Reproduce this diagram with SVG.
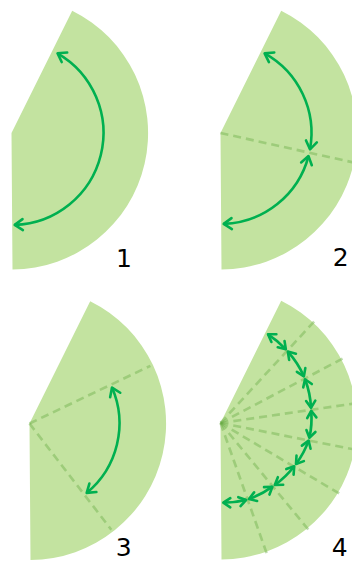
<svg xmlns="http://www.w3.org/2000/svg" width="352" height="562" viewBox="0 0 352 562">
  <style>
    .sector { fill: #C3E3A0; }
    .ray { fill: none; stroke: #6AAB45; stroke-opacity: 0.42; stroke-width: 2.6; stroke-dasharray: 8 5; }
    .arrow { fill: none; stroke: #00B050; stroke-width: 2.6; marker-start: url(#chev); marker-end: url(#chev); }
    .arrow-s { fill: none; stroke: #00B050; stroke-width: 2.7; marker-start: url(#chevs); marker-end: url(#chevs); }
    .num { font-family: "DejaVu Sans", "Liberation Sans", sans-serif; font-size: 25px; fill: #000; text-anchor: middle; }
  </style>
  <defs>
    <path id="sector" d="M0,0 L60.7,-122.3 A136.5,136.5 0 0 1 1,136.5 Z"/>
    <marker id="chev" markerUnits="userSpaceOnUse" viewBox="-10 -7 12 14" markerWidth="12" markerHeight="14" refX="0" refY="0" orient="auto-start-reverse" overflow="visible">
      <path d="M-8,-5.5 L0,0 L-8,5.5" fill="none" stroke="#00B050" stroke-width="2.6" stroke-linecap="round" stroke-linejoin="round"/>
    </marker>
    <marker id="chevs" markerUnits="userSpaceOnUse" viewBox="-10 -7 12 14" markerWidth="12" markerHeight="14" refX="0" refY="0" orient="auto-start-reverse" overflow="visible">
      <path d="M-7,-4.6 L0,0 L-7,4.6" fill="none" stroke="#00B050" stroke-width="2.6" stroke-linecap="round" stroke-linejoin="round"/>
    </marker>
  </defs>

  <!-- Panel 1 -->
  <g id="panel1" transform="translate(11.5,133)">
    <use href="#sector" class="sector"/>
    <g id="panel1-connectors">
      <path class="arrow" d="M46,-79.7 A92,92 0 0 1 3.2,91.9"/>
    </g>
  </g>
  <text id="label1" class="num" x="124" y="267">1</text>

  <!-- Panel 2 -->
  <g id="panel2" transform="translate(220.5,133)">
    <use href="#sector" class="sector"/>
    <path class="ray" d="M0,0 L136.7,30.3"/>
    <g id="panel2-connectors">
      <path class="arrow" d="M44.1,-79.6 A91,91 0 0 1 89.5,16.3"/>
      <path class="arrow" d="M88,23.1 A91,91 0 0 1 3.2,90.9"/>
    </g>
  </g>
  <text id="label2" class="num" x="340.7" y="266">2</text>

  <!-- Panel 3 -->
  <g id="panel3" transform="translate(29.5,423.5)">
    <use href="#sector" class="sector"/>
    <path class="ray" d="M0,0 L120.9,-57.7"/>
    <path class="ray" d="M0,0 L81.8,106.2"/>
    <g id="panel3-connectors">
      <path class="arrow" d="M82.5,-35.9 A90,90 0 0 1 57.2,69.4"/>
    </g>
  </g>
  <text id="label3" class="num" x="123.7" y="556">3</text>

  <!-- Panel 4 -->
  <g id="panel4" transform="translate(220.5,423)">
    <use href="#sector" class="sector"/>
    <path class="ray" d="M0,0 L93.6,-101.4"/>
    <path class="ray" d="M0,0 L122.1,-64.4"/>
    <path class="ray" d="M0,0 L136.6,-19.9"/>
    <path class="ray" d="M0,0 L135.4,26.8"/>
    <path class="ray" d="M0,0 L118.7,70.5"/>
    <path class="ray" d="M0,0 L87.8,106.5"/>
    <path class="ray" d="M0,0 L46.1,130.1"/>
    <g id="panel4-connectors">
      <path class="arrow-s" d="M47.5,-88.7 A90,90 0 0 1 65.35,-73.67"/>
      <path class="arrow-s" d="M67.3,-71.4 A90,90 0 0 1 83.4,-46.6"/>
      <path class="arrow-s" d="M84.5,-43.8 A90,90 0 0 1 90.5,-15.2"/>
      <path class="arrow-s" d="M90.7,-12.2 A90,90 0 0 1 88.9,14.8"/>
      <path class="arrow-s" d="M88.1,17.6 A90,90 0 0 1 75.5,41"/>
      <path class="arrow-s" d="M73.7,43.3 A90,90 0 0 1 54.3,62"/>
      <path class="arrow-s" d="M51.9,63.7 A90,90 0 0 1 28.5,76"/>
      <path class="arrow-s" d="M25.7,76.9 A90,90 0 0 1 2.8,79.7"/>
    </g>
  </g>
  <text id="label4" class="num" x="339.7" y="556">4</text>
</svg>
